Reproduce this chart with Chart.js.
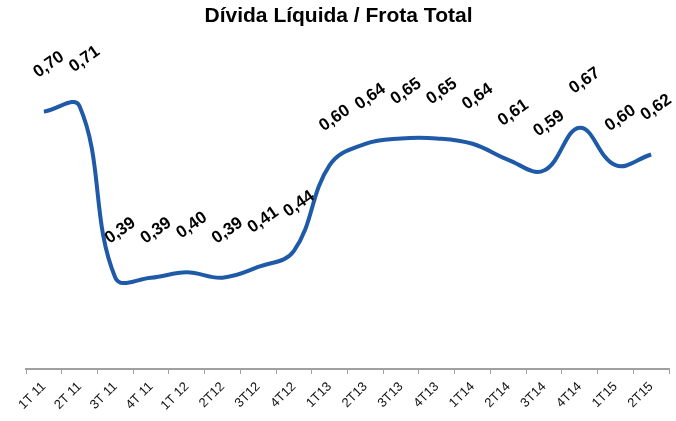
<!DOCTYPE html>
<html>
<head>
<meta charset="utf-8">
<script src="https://cdn.jsdelivr.net/npm/chart.js@4"></script>
<style>
  html, body { margin: 0; padding: 0; background: #ffffff; }
  #wrap { width: 676px; height: 421px; }
</style>
</head>
<body>
<div id="wrap"><canvas id="c" width="676" height="421"></canvas></div>
<script>
const categories = ["1T 11", "2T 11", "3T 11", "4T 11", "1T 12", "2T12", "3T12", "4T12", "1T13", "2T13", "3T13", "4T13", "1T14", "2T14", "3T14", "4T14", "1T15", "2T15"];
const ratioValues = [0.70, 0.71, 0.39, 0.39, 0.40, 0.39, 0.41, 0.44, 0.60, 0.64, 0.65, 0.65, 0.64, 0.61, 0.59, 0.67, 0.60, 0.62];
const chartTitle = "Dívida Líquida / Frota Total";

const FONT = "'Liberation Sans', Arial, Helvetica, sans-serif";

const valueLabels = {
  id: 'valueLabels',
  afterDatasetsDraw(chart) {
    const ctx = chart.ctx;
    const meta = chart.getDatasetMeta(0);
    ctx.save();
    ctx.font = "bold 17px " + FONT;
    ctx.fillStyle = "#000000";
    ctx.textAlign = "center";
    ctx.textBaseline = "middle";
    meta.data.forEach((pt, i) => {
      const txt = ratioValues[i].toFixed(2).replace('.', ',');
      ctx.save();
      ctx.translate(pt.x + 5, pt.y - 47);
      ctx.rotate(-35 * Math.PI / 180);
      ctx.fillText(txt, 0, 0);
      ctx.restore();
    });
    ctx.restore();
  }
};

new Chart(document.getElementById('c'), {
  type: 'line',
  data: {
    labels: categories,
    datasets: [{
      data: ratioValues,
      borderColor: '#1E5AA8',
      borderWidth: 4,
      pointRadius: 0,
      tension: 0.4,
      fill: false
    }]
  },
  options: {
    responsive: false,
    animation: false,
    layout: { padding: { left: 8, right: 7, top: 0, bottom: 0 } },
    plugins: {
      legend: { display: false },
      tooltip: { enabled: false },
      title: {
        display: true,
        text: chartTitle,
        color: '#000000',
        font: { family: FONT, size: 21, weight: 'bold', lineHeight: 1.1 },
        padding: { top: 5, bottom: 7 }
      }
    },
    scales: {
      x: {
        offset: true,
        grid: { display: true, drawOnChartArea: false, drawTicks: true, tickLength: 5, offset: true, color: '#A0A0A0', lineWidth: 1 },
        border: { display: true, color: '#A0A0A0', width: 2 },
        ticks: {
          autoSkip: false, maxRotation: 45, minRotation: 45, padding: 5,
          color: '#111111',
          font: { family: FONT, size: 13 }
        },
        afterFit(scale) { scale.height = 52; }
      },
      y: {
        display: true,
        min: 0.2196,
        max: 0.8428,
        grid: { display: false, drawTicks: false },
        border: { display: false },
        ticks: { display: false },
        afterFit(scale) { scale.width = 18; }
      }
    }
  },
  plugins: [valueLabels]
});
</script>
</body>
</html>
